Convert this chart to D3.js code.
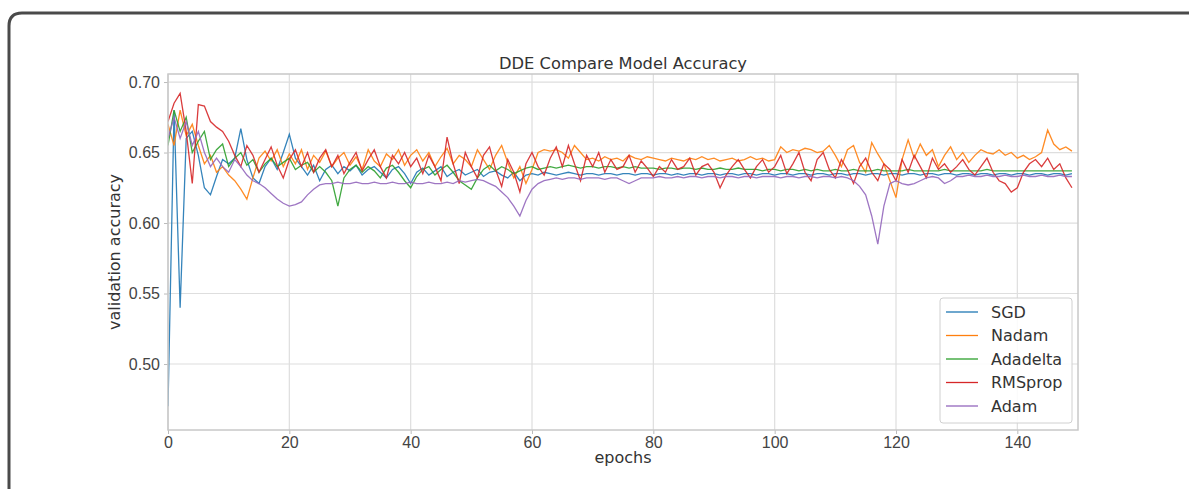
<!DOCTYPE html>
<html>
<head>
<meta charset="utf-8">
<script src="https://cdn.jsdelivr.net/npm/d3@7"></script>
<style>
  body { margin: 0; background: #fff; }
  svg { display: block; font-family: "DejaVu Sans", sans-serif; }
  .tick text { fill: #444; font-size: 16px; }
  .tick line { stroke: #bbb; }
  .domain { display: none; }
</style>
</head>
<body>
<div id="main"></div>
<script>
'use strict'

// epochs 0..149
const seriesNames = ["SGD", "Nadam", "Adadelta", "RMSprop", "Adam"];
const seriesColors = ["#1f77b4", "#ff7f0e", "#2ca02c", "#d62728", "#9467bd"];
const xTicks = [0, 20, 40, 60, 80, 100, 120, 140];
const yTicks = [0.50, 0.55, 0.60, 0.65, 0.70];

const sgd = [
  0.470, 0.680, 0.540, 0.660, 0.665, 0.648, 0.625, 0.620, 0.633, 0.645,
  0.642, 0.646, 0.667, 0.645, 0.632, 0.628, 0.640, 0.646, 0.638, 0.650,
  0.663, 0.646, 0.640, 0.634, 0.641, 0.630, 0.638, 0.641, 0.635, 0.640,
  0.637, 0.641, 0.634, 0.638, 0.640, 0.636, 0.632, 0.638, 0.640, 0.635,
  0.628, 0.636, 0.639, 0.634, 0.637, 0.640, 0.633, 0.636, 0.638, 0.634,
  0.636, 0.638, 0.633, 0.636, 0.637, 0.634, 0.632, 0.636, 0.630, 0.634,
  0.635, 0.634, 0.636, 0.635, 0.634, 0.635, 0.636, 0.635, 0.634, 0.635,
  0.635, 0.634, 0.635, 0.635, 0.634, 0.635, 0.635, 0.634, 0.635, 0.635,
  0.634, 0.635, 0.635, 0.634, 0.635, 0.634, 0.635, 0.635, 0.634, 0.635,
  0.635, 0.634, 0.635, 0.635, 0.634, 0.635, 0.635, 0.634, 0.635, 0.635,
  0.634, 0.635, 0.635, 0.634, 0.635, 0.635, 0.634, 0.635, 0.635, 0.634,
  0.635, 0.635, 0.634, 0.635, 0.635, 0.634, 0.635, 0.635, 0.634, 0.635,
  0.635, 0.634, 0.635, 0.635, 0.634, 0.635, 0.635, 0.634, 0.635, 0.635,
  0.634, 0.635, 0.635, 0.634, 0.635, 0.635, 0.634, 0.635, 0.635, 0.634,
  0.635, 0.635, 0.634, 0.635, 0.635, 0.634, 0.635, 0.635, 0.634, 0.635
];

const nadam = [
  0.670, 0.655, 0.680, 0.662, 0.670, 0.655, 0.642, 0.648, 0.636, 0.640,
  0.634, 0.630, 0.624, 0.617, 0.632, 0.646, 0.651, 0.644, 0.652, 0.640,
  0.649, 0.642, 0.652, 0.638, 0.648, 0.643, 0.651, 0.640, 0.646, 0.650,
  0.641, 0.647, 0.638, 0.652, 0.644, 0.640, 0.649, 0.645, 0.652, 0.641,
  0.648, 0.652, 0.644, 0.650, 0.640, 0.647, 0.653, 0.642, 0.648, 0.645,
  0.640, 0.652, 0.645, 0.638, 0.648, 0.655, 0.643, 0.632, 0.640, 0.628,
  0.638, 0.650, 0.652, 0.651, 0.652, 0.650, 0.646, 0.655, 0.650, 0.645,
  0.646, 0.644, 0.647, 0.645, 0.646, 0.644, 0.648, 0.646, 0.645, 0.647,
  0.646, 0.645, 0.644, 0.646, 0.645, 0.644, 0.646, 0.645, 0.647, 0.645,
  0.646, 0.644, 0.645, 0.646, 0.644, 0.645, 0.647, 0.645, 0.646, 0.644,
  0.645, 0.654, 0.650, 0.652, 0.651, 0.653, 0.652, 0.650, 0.651, 0.655,
  0.648, 0.640, 0.652, 0.655, 0.643, 0.636, 0.657, 0.649, 0.642, 0.630,
  0.618, 0.645, 0.659, 0.646, 0.656, 0.648, 0.652, 0.640, 0.648, 0.654,
  0.645, 0.650, 0.643, 0.648, 0.652, 0.650, 0.649, 0.652, 0.648, 0.650,
  0.646, 0.648, 0.645, 0.647, 0.650, 0.666, 0.656, 0.652, 0.654, 0.651
];

const adadelta = [
  0.655, 0.680, 0.665, 0.675, 0.650, 0.658, 0.665, 0.645, 0.652, 0.656,
  0.640, 0.646, 0.650, 0.641, 0.645, 0.636, 0.642, 0.646, 0.640, 0.643,
  0.646, 0.638, 0.641, 0.643, 0.636, 0.640, 0.636, 0.630, 0.612, 0.632,
  0.638, 0.641, 0.636, 0.640, 0.637, 0.632, 0.639, 0.641, 0.636, 0.630,
  0.625, 0.633, 0.638, 0.640, 0.634, 0.638, 0.641, 0.636, 0.630, 0.627,
  0.624, 0.632, 0.638, 0.641, 0.637, 0.640, 0.638, 0.635, 0.637, 0.639,
  0.640, 0.638, 0.639, 0.640, 0.639, 0.640, 0.641, 0.640, 0.639, 0.640,
  0.640, 0.639, 0.640, 0.640, 0.639, 0.640, 0.639, 0.640, 0.639, 0.639,
  0.639, 0.638, 0.639, 0.639, 0.638, 0.639, 0.639, 0.638, 0.639, 0.638,
  0.638, 0.639, 0.638, 0.638, 0.639, 0.638, 0.638, 0.638, 0.637, 0.638,
  0.638, 0.637, 0.638, 0.638, 0.637, 0.638, 0.637, 0.638, 0.637, 0.637,
  0.638, 0.637, 0.637, 0.638, 0.637, 0.637, 0.637, 0.638, 0.637, 0.637,
  0.637, 0.637, 0.638, 0.637, 0.637, 0.637, 0.637, 0.637, 0.638, 0.637,
  0.637, 0.637, 0.637, 0.637, 0.637, 0.638, 0.637, 0.637, 0.637, 0.637,
  0.637, 0.637, 0.637, 0.637, 0.637, 0.637, 0.637, 0.637, 0.637, 0.637
];

const rmsprop = [
  0.672, 0.685, 0.692, 0.665, 0.628, 0.684, 0.683, 0.672, 0.668, 0.665,
  0.658, 0.648, 0.640, 0.655, 0.648, 0.636, 0.645, 0.654, 0.641, 0.632,
  0.645, 0.652, 0.640, 0.650, 0.636, 0.646, 0.652, 0.640, 0.648, 0.635,
  0.643, 0.650, 0.637, 0.645, 0.652, 0.640, 0.632, 0.648, 0.642, 0.650,
  0.640, 0.646, 0.635, 0.648, 0.640, 0.630, 0.661, 0.642, 0.628, 0.650,
  0.640, 0.632, 0.648, 0.654, 0.638, 0.626, 0.645, 0.636, 0.622, 0.642,
  0.650, 0.640, 0.634, 0.646, 0.654, 0.640, 0.655, 0.642, 0.630, 0.648,
  0.640, 0.650, 0.636, 0.645, 0.638, 0.640, 0.648, 0.636, 0.644, 0.639,
  0.633, 0.640, 0.636, 0.645, 0.638, 0.640, 0.646, 0.634, 0.640, 0.642,
  0.636, 0.625, 0.634, 0.640, 0.645, 0.638, 0.632, 0.640, 0.645, 0.636,
  0.640, 0.648, 0.635, 0.642, 0.650, 0.636, 0.630, 0.645, 0.650, 0.638,
  0.632, 0.645, 0.638, 0.628, 0.640, 0.646, 0.636, 0.630, 0.642, 0.638,
  0.630, 0.645, 0.636, 0.648, 0.640, 0.632, 0.646, 0.638, 0.642, 0.636,
  0.640, 0.645, 0.638, 0.634, 0.640, 0.646, 0.636, 0.630, 0.628, 0.622,
  0.625, 0.636, 0.642, 0.645, 0.640, 0.646, 0.638, 0.642, 0.632, 0.625
];

const adam = [
  0.660, 0.675, 0.660, 0.672, 0.655, 0.665, 0.650, 0.640, 0.646, 0.640,
  0.636, 0.645, 0.640, 0.634, 0.630, 0.628, 0.625, 0.621, 0.617, 0.614,
  0.612, 0.613, 0.615, 0.620, 0.624, 0.627, 0.628, 0.628, 0.629, 0.628,
  0.628, 0.629, 0.628, 0.628, 0.629, 0.628, 0.628, 0.629, 0.628, 0.628,
  0.629, 0.628, 0.628, 0.629, 0.628, 0.628, 0.629, 0.628, 0.630, 0.629,
  0.630, 0.631, 0.630, 0.628, 0.626, 0.622, 0.618, 0.612, 0.605, 0.616,
  0.624, 0.628, 0.630, 0.631, 0.632, 0.631, 0.632, 0.632, 0.631, 0.632,
  0.632, 0.632, 0.631, 0.632, 0.632, 0.630, 0.628, 0.630, 0.632, 0.632,
  0.632, 0.633, 0.632, 0.632, 0.633, 0.632, 0.633, 0.633, 0.632, 0.633,
  0.633, 0.632, 0.633, 0.633, 0.632, 0.633, 0.633, 0.632, 0.633, 0.633,
  0.633, 0.632, 0.633, 0.633, 0.632, 0.633, 0.633, 0.632, 0.633, 0.633,
  0.632, 0.633, 0.632, 0.630, 0.626, 0.620, 0.605, 0.585, 0.612, 0.628,
  0.630, 0.628, 0.627, 0.628, 0.630, 0.632, 0.633, 0.632, 0.628, 0.630,
  0.633, 0.633, 0.634, 0.633, 0.633, 0.634, 0.633, 0.633, 0.634, 0.633,
  0.633, 0.634, 0.633, 0.633, 0.634, 0.633, 0.633, 0.634, 0.633, 0.633
];

const allSeries = [sgd, nadam, adadelta, rmsprop, adam];

document.addEventListener('DOMContentLoaded', function(){
  drawChart();
});

function drawChart(){
  let svgWidth = 1189;
  let svgHeight = 489;

  // plot area in page pixels
  let left = 168, right = 1078, top = 74, bottom = 430;

  let svg = d3.select('#main')
    .append('svg')
    .attr('width', svgWidth)
    .attr('height', svgHeight);

  // rounded frame around the picture
  svg.append('path')
    .attr('d', 'M9,' + (svgHeight + 5) + ' L9,26 Q9,13 22,13 L' + (svgWidth + 5) + ',13')
    .attr('fill', 'none')
    .attr('stroke', '#4a4a4a')
    .attr('stroke-width', 3);

  let xScale = d3.scaleLinear()
    .domain([0, 150])
    .range([left, right]);

  let yScale = d3.scaleLinear()
    .domain([0.4532, 0.7057])
    .range([bottom, top]);

  // grid
  svg.append('g')
    .selectAll('line')
    .data(xTicks)
    .enter()
    .append('line')
    .attr('x1', d => xScale(d)).attr('x2', d => xScale(d))
    .attr('y1', top).attr('y2', bottom)
    .attr('stroke', '#dedede').attr('stroke-width', 1.2);

  svg.append('g')
    .selectAll('line')
    .data(yTicks)
    .enter()
    .append('line')
    .attr('x1', left).attr('x2', right)
    .attr('y1', d => yScale(d)).attr('y2', d => yScale(d))
    .attr('stroke', '#dedede').attr('stroke-width', 1.2);

  // axes
  const xAxis = d3.axisBottom(xScale).tickValues(xTicks).tickSize(4).tickPadding(3);
  const yAxis = d3.axisLeft(yScale).tickValues(yTicks).tickSize(4).tickPadding(4)
                  .tickFormat(d3.format('.2f'));

  svg.append('g')
    .attr('transform', 'translate(0,' + bottom + ')')
    .call(xAxis);

  svg.append('g')
    .attr('transform', 'translate(' + left + ',0)')
    .call(yAxis);

  // lines
  svg.append('clipPath').attr('id', 'plotclip')
    .append('rect')
    .attr('x', left).attr('y', top)
    .attr('width', right - left).attr('height', bottom - top);

  let line = d3.line()
    .x((d, i) => xScale(i))
    .y(d => yScale(d));

  svg.append('g')
    .attr('clip-path', 'url(#plotclip)')
    .selectAll('path')
    .data(allSeries)
    .enter()
    .append('path')
    .attr('d', d => line(d))
    .attr('fill', 'none')
    .attr('stroke', (d, i) => seriesColors[i])
    .attr('stroke-width', 1.3)
    .attr('stroke-opacity', 0.9);

  // frame of the plot
  svg.append('rect')
    .attr('x', left).attr('y', top)
    .attr('width', right - left).attr('height', bottom - top)
    .attr('fill', 'none')
    .attr('stroke', '#c8c8c8')
    .attr('stroke-width', 1.5);

  // title & labels
  svg.append('text')
    .text('DDE Compare Model Accuracy')
    .attr('x', (left + right) / 2)
    .attr('y', 69)
    .attr('text-anchor', 'middle')
    .attr('font-size', '16.3px')
    .attr('fill', '#333');

  svg.append('text')
    .text('epochs')
    .attr('x', (left + right) / 2)
    .attr('y', 463)
    .attr('text-anchor', 'middle')
    .attr('font-size', '16px')
    .attr('fill', '#333');

  svg.append('text')
    .text('validation accuracy')
    .attr('transform', 'translate(120,' + ((top + bottom) / 2) + ') rotate(-90)')
    .attr('text-anchor', 'middle')
    .attr('font-size', '16px')
    .attr('fill', '#333');

  // legend
  let legend = svg.append('g');
  legend.append('rect')
    .attr('x', 940).attr('y', 298)
    .attr('width', 132).attr('height', 125)
    .attr('rx', 3)
    .attr('fill', '#fff')
    .attr('fill-opacity', 0.85)
    .attr('stroke', '#d0d0d0');

  let rows = legend.selectAll('g.row')
    .data(seriesNames)
    .enter()
    .append('g')
    .attr('class', 'row')
    .attr('transform', (d, i) => 'translate(0,' + (312 + i * 23.5) + ')');

  rows.append('line')
    .attr('x1', 946).attr('x2', 978)
    .attr('y1', 0).attr('y2', 0)
    .attr('stroke', (d, i) => seriesColors[i])
    .attr('stroke-width', 1.3);

  rows.append('text')
    .text(d => d)
    .attr('x', 991)
    .attr('y', 5.5)
    .attr('font-size', '16px')
    .attr('fill', '#333');
}
</script>
</body>
</html>
